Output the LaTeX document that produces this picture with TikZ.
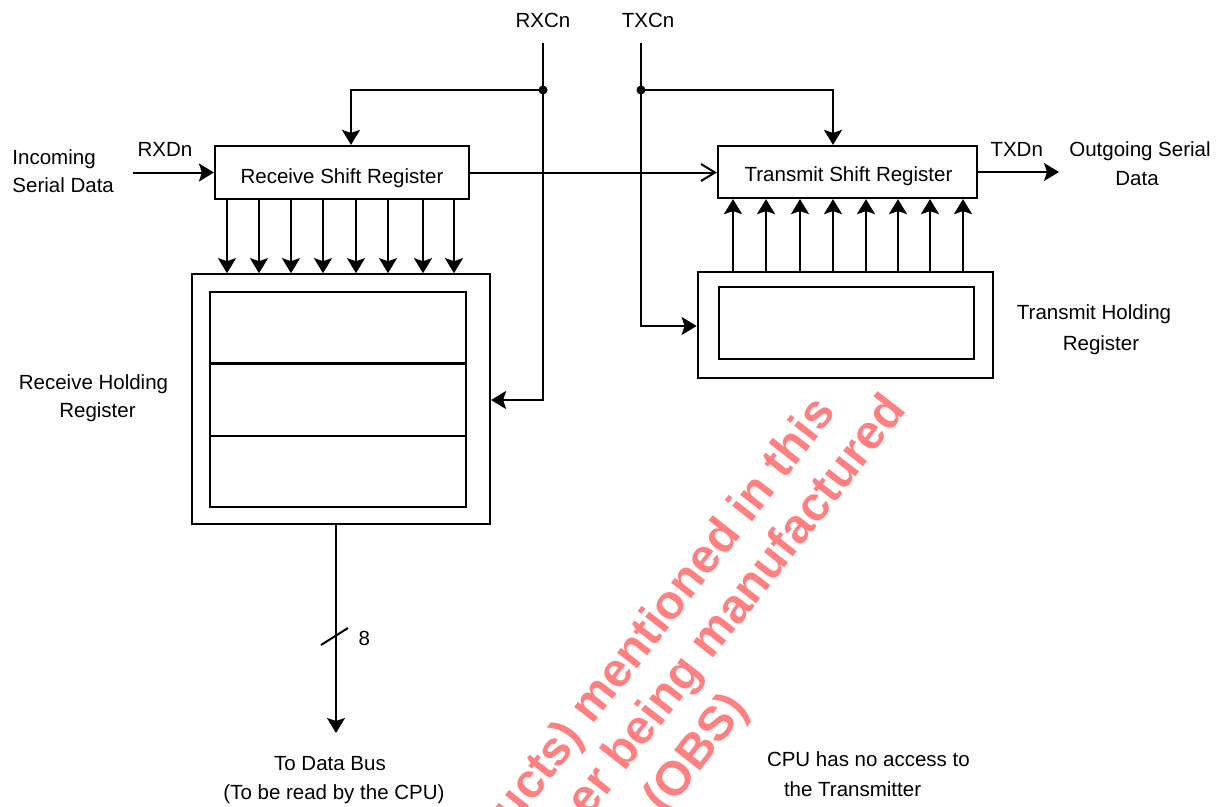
\documentclass[tikz,border=0pt]{standalone}
\usepackage{fontspec}
\setmainfont{Liberation Sans}
\usetikzlibrary{arrows.meta,calc}
\definecolor{wmred}{RGB}{255,128,128}
\begin{document}
\begin{tikzpicture}[x=1pt,y=-1pt,
  line width=2pt,
  lbl/.style={font=\fontsize{20.5}{25}\selectfont, inner sep=0pt},
  regbox/.style={draw, line width=2.2pt, inner sep=0pt},
  arr/.style={-{Stealth[length=15pt,width=18pt,inset=3pt]}},
  openarr/.style={-{Straight Barb[length=14pt,width=17pt]}},
  wm/.style={font=\fontsize{48}{55}\bfseries\selectfont, text=wmred, rotate=52, anchor=base east, inner sep=0pt},
  dot/.style={circle, fill, inner sep=0pt, minimum size=9pt}
]
\useasboundingbox (0,0) rectangle (1229,806);

% watermark
\node[wm] (wm1) at (838,412) {ucts) mentioned in this};
\node[wm] (wm2) at (908,410) {er being manufactured};
\node[wm] (wm3) at (750,708) {(OBS)};

% registers
\node[regbox, minimum width=254pt, minimum height=53pt] (rsr) at (342,172.5) {};
\node[regbox, minimum width=259pt, minimum height=52pt] (tsr) at (847.5,172) {};
\node[lbl, anchor=base] (rsrt) at (342,183) {Receive Shift Register};
\node[lbl, anchor=base] (tsrt) at (848.5,181) {Transmit Shift Register};

\node[regbox, minimum width=298pt, minimum height=250pt] (rhr) at (341,399.3) {};
\node[regbox, minimum width=256pt, minimum height=214.4pt] (rhri) at (338,399.5) {};
\draw[line width=2.2pt] ($(rhri.north west)!1/3!(rhri.south west)$) -- ($(rhri.north east)!1/3!(rhri.south east)$);
\draw[line width=2.2pt] ($(rhri.north west)!2/3!(rhri.south west)$) -- ($(rhri.north east)!2/3!(rhri.south east)$);

\node[regbox, minimum width=295.6pt, minimum height=106.6pt] (thr) at (845.5,325) {};
\node[regbox, minimum width=255pt, minimum height=71.7pt] (thri) at (846.5,323.2) {};

% labels
\node[lbl, anchor=base] (rxc) at (543,27) {RXCn};
\node[lbl, anchor=base] (txc) at (648,27) {TXCn};
\node[lbl, anchor=base] (rxd) at (165,156.7) {RXDn};
\node[lbl, anchor=base] (txd) at (1016.7,156.7) {TXDn};
\node[lbl, anchor=base west] (inc1) at (11.5,164) {Incoming};
\node[lbl, anchor=base west] (inc2) at (11.5,192.7) {Serial Data};
\node[lbl, anchor=base] (out1) at (1140,156.7) {Outgoing Serial};
\node[lbl, anchor=base] (out2) at (1137,185) {Data};
\node[lbl, anchor=base] (rh1) at (93.5,389) {Receive Holding};
\node[lbl, anchor=base] (rh2) at (97.5,417) {Register};
\node[lbl, anchor=base] (th1) at (1094,319) {Transmit Holding};
\node[lbl, anchor=base] (th2) at (1101,350) {Register};
\node[lbl, anchor=base] (eight) at (364.3,645) {8};
\node[lbl, anchor=base] (db1) at (330,770) {To Data Bus};
\node[lbl, anchor=base] (db2) at (334,799) {(To be read by the CPU)};
\node[lbl, anchor=base west] (cpu1) at (766,766.7) {CPU has no access to};
\node[lbl, anchor=base west] (cpu2) at (783,796.7) {the Transmitter};

% clock lines
\coordinate (rxctop) at (543,43);
\coordinate (rxcbot) at (543,400);
\coordinate (txctop) at (641,43);
\coordinate (txcbot) at (641,326);
\node[dot] (rxcdot) at (543,90) {};
\node[dot] (txcdot) at (641,90) {};
\coordinate (rsrclk) at (351,0);
\coordinate (tsrclk) at (833,0);

\draw[arr] (rxctop) -- (rxcbot) -- (rxcbot -| rhr.east);
\draw[arr] (rxcdot.center) -| (rsr.north -| rsrclk);
\draw[arr] (txctop) -- (txcbot) -- (txcbot -| thr.west);
\draw[arr] (txcdot.center) -| (tsr.north -| tsrclk);

% serial data
\coordinate (rxdin) at (133,172.5);
\coordinate (txdout) at (1059,172);
\draw[arr] (rxdin) -- (rsr.west);
\draw[arr] (tsr.east) -- (txdout);
\draw[openarr] (rsr.east) -- (rsr.east -| tsr.west);

% parallel transfers
\foreach \x in {227,259,291,323,356,388,423,454}
  \draw[arr] (rsr.south -| \x,0) -- (rhr.north -| \x,0);
\foreach \x in {733,766,800,833,866,898,930,963}
  \draw[arr] (thr.north -| \x,0) -- (tsr.south -| \x,0);

% data bus
\coordinate (busx) at (336,0);
\coordinate (busend) at (336,733);
\draw[arr] (rhr.south -| busx) -- (busend);
\coordinate (sl1) at (321,645);
\coordinate (sl2) at (348,628);
\draw (sl1) -- (sl2);
\end{tikzpicture}
\end{document}
